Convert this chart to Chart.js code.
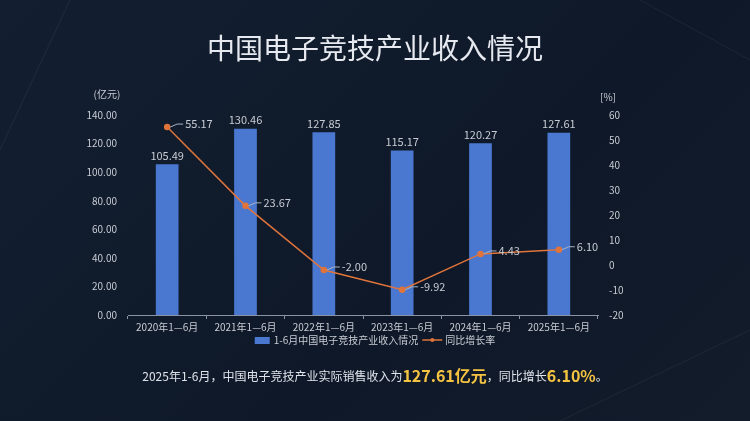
<!DOCTYPE html>
<html><head><meta charset="utf-8">
<script src="https://cdn.jsdelivr.net/npm/chart.js@4"></script>
<style>
html,body{margin:0;padding:0;background:#0f1a2b;}
#wrap{width:750px;height:421px;position:relative;background:linear-gradient(135deg,#131f31 0%,#0e1828 60%,#121c2b 100%);}
</style></head>
<body><div id="wrap"><canvas id="c" width="750" height="421"></canvas></div>
<script>
var categories = ['2020年1—6月','2021年1—6月','2022年1—6月','2023年1—6月','2024年1—6月','2025年1—6月'];
var revenue = [105.49, 130.46, 127.85, 115.17, 120.27, 127.61];
var growth = [55.17, 23.67, -2.00, -9.92, 4.43, 6.10];
var font = '"Noto Sans CJK SC", "Noto Sans", sans-serif';

var decor = {
    id: 'decor',
    beforeDraw: function(chart) {
        var ctx = chart.ctx;
        ctx.save();
        ctx.strokeStyle = 'rgba(255,255,255,0.06)';
        ctx.lineWidth = 1;
        ctx.beginPath();
        ctx.moveTo(560, 421); ctx.lineTo(750, 330);
        ctx.moveTo(640, 0); ctx.lineTo(750, 60);
        ctx.moveTo(0, 150); ctx.lineTo(70, 0);
        ctx.stroke();
        ctx.restore();
    },
    afterDraw: function(chart) {
        var ctx = chart.ctx;
        var x = chart.scales.x, y = chart.scales.y, y1 = chart.scales.y1;
        ctx.save();
        ctx.fillStyle = '#e6e9ef';
        ctx.font = '28px ' + font;
        ctx.textAlign = 'center';
        ctx.textBaseline = 'middle';
        ctx.fillText('中国电子竞技产业收入情况', 375, 48);
        ctx.font = '10px ' + font;
        ctx.fillStyle = '#c8ccd4';
        ctx.fillText('(亿元)', 107, 94);
        ctx.fillText('[%]', 608, 97);
        // bar labels
        ctx.font = '11px ' + font;
        ctx.textBaseline = 'bottom';
        revenue.forEach(function(v, i) {
            ctx.fillText(v.toFixed(2), x.getPixelForValue(i), y.getPixelForValue(v) - 3);
        });
        // line labels with leader
        ctx.textAlign = 'left';
        ctx.textBaseline = 'middle';
        ctx.strokeStyle = '#aab3c2';
        growth.forEach(function(v, i) {
            var px = x.getPixelForValue(i), py = y1.getPixelForValue(v);
            ctx.beginPath();
            ctx.moveTo(px + 3, py);
            ctx.lineTo(px + 10, py - 3);
            ctx.lineTo(px + 16, py - 3);
            ctx.stroke();
            ctx.fillText(v.toFixed(2), px + 18, py - 3);
        });
        // legend
        ctx.font = '10px ' + font;
        var t1 = '1-6月中国电子竞技产业收入情况', t2 = '同比增长率';
        var w1 = ctx.measureText(t1).width, w2 = ctx.measureText(t2).width;
        var lx = 375 - (15 + 4 + w1 + 4 + 20 + 3 + w2) / 2;
        ctx.fillStyle = '#4a78d0';
        ctx.fillRect(lx, 337, 15, 7);
        ctx.fillStyle = '#c8ccd4';
        ctx.fillText(t1, lx + 19, 340);
        var mx = lx + 19 + w1 + 4;
        ctx.strokeStyle = '#e0743a';
        ctx.lineWidth = 1.5;
        ctx.beginPath(); ctx.moveTo(mx, 340); ctx.lineTo(mx + 20, 340); ctx.stroke();
        ctx.fillStyle = '#e0743a';
        ctx.beginPath(); ctx.arc(mx + 10, 340, 2, 0, Math.PI * 2); ctx.fill();
        ctx.fillStyle = '#c8ccd4';
        ctx.fillText(t2, mx + 23, 340);
        // summary
        var parts = [['2025年1-6月，中国电子竞技产业实际销售收入为', '12px', '#dfe3ea'],
                     ['127.61亿元', 'bold 16px', '#f5c342'],
                     ['，同比增长', '12px', '#dfe3ea'],
                     ['6.10%', 'bold 16px', '#f5c342'],
                     ['。', '12px', '#dfe3ea']];
        var total = 0;
        parts.forEach(function(p) { ctx.font = p[1] + ' ' + font; total += ctx.measureText(p[0]).width; });
        var cx = 375 - total / 2;
        parts.forEach(function(p) {
            ctx.font = p[1] + ' ' + font;
            ctx.fillStyle = p[2];
            ctx.fillText(p[0], cx, 376);
            cx += ctx.measureText(p[0]).width;
        });
        ctx.restore();
    }
};

var ctx = document.getElementById('c').getContext('2d');
new Chart(ctx, {
    data: {
        labels: categories,
        datasets: [
            {
                type: 'line',
                label: '同比增长率',
                data: growth,
                yAxisID: 'y1',
                borderColor: '#e0743a',
                backgroundColor: '#e0743a',
                borderWidth: 1.5,
                pointRadius: 2.5,
                tension: 0,
                order: 0
            },
            {
                type: 'bar',
                label: '1-6月中国电子竞技产业收入情况',
                data: revenue,
                yAxisID: 'y',
                backgroundColor: '#4a78d0',
                barPercentage: 0.29,
                categoryPercentage: 1,
                order: 1
            }
        ]
    },
    options: {
        responsive: false,
        animation: false,
        layout: { padding: { left: 78, right: 112, top: 115, bottom: 86 } },
        plugins: { legend: { display: false }, tooltip: { enabled: false } },
        scales: {
            x: {
                afterFit: function(s) { s.height = 20; },
                grid: { offset: true, drawOnChartArea: false, color: '#8a93a3', tickLength: 4 },
                border: { color: '#8a93a3' },
                ticks: { color: '#c8ccd4', font: { size: 10, family: font }, maxRotation: 0, padding: 2 }
            },
            y: {
                position: 'left',
                min: 0, max: 140,
                afterFit: function(s) { s.width = 50; },
                grid: { display: false },
                border: { display: false },
                ticks: { stepSize: 20, color: '#c8ccd4', font: { size: 10, family: font }, callback: function(v) { return v.toFixed(2); } }
            },
            y1: {
                position: 'right',
                min: -20, max: 60,
                afterFit: function(s) { s.width = 40; },
                grid: { display: false },
                border: { display: false },
                ticks: { stepSize: 10, color: '#c8ccd4', font: { size: 10, family: font } }
            }
        }
    },
    plugins: [decor]
});
</script></body></html>
